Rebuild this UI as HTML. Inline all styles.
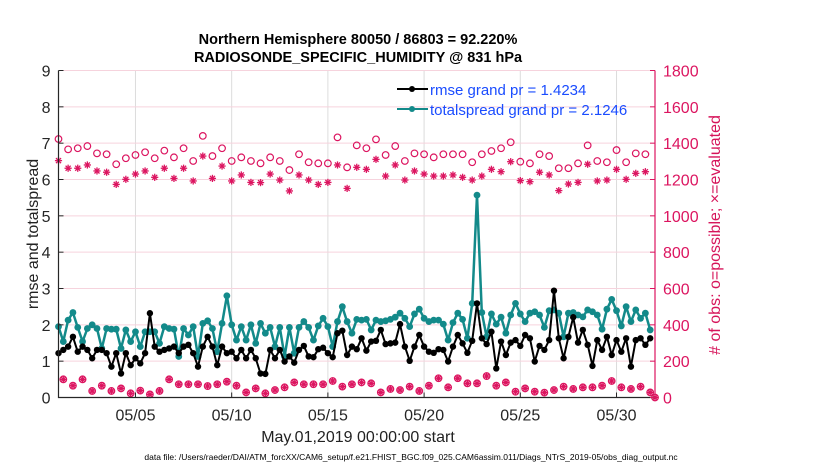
<!DOCTYPE html>
<html><head><meta charset="utf-8"><style>
html,body{margin:0;padding:0;background:#fff;}
svg{display:block;font-family:"Liberation Sans",sans-serif;}
</style></head><body>
<svg id="chart" width="830" height="470" viewBox="0 0 830 470" xmlns="http://www.w3.org/2000/svg">
<rect width="830" height="470" fill="#fff"/>
<text x="358" y="44" text-anchor="middle" font-size="14.5" font-weight="bold" fill="#000">Northern Hemisphere 80050 / 86803 = 92.220%</text>
<text x="358" y="62" text-anchor="middle" font-size="14.5" font-weight="bold" fill="#000">RADIOSONDE_SPECIFIC_HUMIDITY @ 831 hPa</text>
<g id="grid"></g>
<g id="marks"></g>
<g id="axes"></g>
<text transform="translate(38,234) rotate(-90)" text-anchor="middle" font-size="16" fill="#222">rmse and totalspread</text>
<text transform="translate(720,235) rotate(-90)" text-anchor="middle" font-size="16" fill="#d6145a"># of obs: o=possible; ×=evaluated</text>
<text x="358" y="442" text-anchor="middle" font-size="16" fill="#222">May.01,2019 00:00:00 start</text>
<text x="411" y="460" text-anchor="middle" font-size="8.5" fill="#000">data file: /Users/raeder/DAI/ATM_forcXX/CAM6_setup/f.e21.FHIST_BGC.f09_025.CAM6assim.011/Diags_NTrS_2019-05/obs_diag_output.nc</text>
<g id="legend">
<line x1="397" y1="89" x2="428" y2="89" stroke="#000" stroke-width="2"/><circle cx="412" cy="89" r="3" fill="#000"/>
<text x="430" y="95" font-size="15" fill="#1a4cff">rmse grand pr = 1.4234</text>
<line x1="397" y1="109" x2="428" y2="109" stroke="#138a8a" stroke-width="2"/><circle cx="412" cy="109" r="3" fill="#138a8a"/>
<text x="430" y="115" font-size="15" fill="#1a4cff">totalspread grand pr = 2.1246</text>
</g>
</svg>
<script>
const rmse = [1.22,1.31,1.40,1.67,1.26,1.40,1.31,1.08,1.31,1.31,1.22,0.85,1.22,0.66,1.22,0.89,1.08,0.94,1.22,2.32,1.40,1.26,1.31,1.35,1.40,1.22,1.40,1.45,1.22,0.85,1.40,1.67,1.40,0.89,1.40,1.22,1.26,1.08,1.31,1.08,1.31,1.08,0.66,
0.65,1.31,1.08,1.31,0.99,1.13,0.96,1.31,1.42,1.13,1.11,1.33,1.37,1.22,1.11,1.77,1.84,1.17,1.40,1.33,1.63,1.29,1.54,1.56,1.86,1.47,1.49,1.51,2.02,1.40,1.01,1.40,1.72,1.40,1.26,1.23,1.33,1.31,0.99,1.40,1.72,1.49,
1.23,1.56,2.59,1.63,1.47,1.81,0.80,1.54,1.17,1.51,1.58,1.42,1.72,1.63,0.99,1.42,1.31,1.58,2.94,1.63,1.08,1.67,2.21,1.51,1.86,1.45,0.87,1.58,1.31,1.67,1.17,1.58,1.26,1.63,0.85,1.58,1.63,1.45,1.63];
const totalspread = [1.95,1.54,2.13,2.34,1.93,1.54,1.90,2.00,1.90,1.35,1.90,1.88,1.88,1.35,1.86,1.54,1.81,1.40,1.81,1.81,1.81,1.49,1.95,1.90,1.88,1.13,1.90,1.72,1.95,1.13,2.04,2.11,1.90,1.26,2.04,2.80,2.00,1.58,1.95,1.58,2.00,1.49,2.04,
1.77,1.93,1.40,1.93,1.13,1.93,1.22,1.93,2.09,1.93,1.58,1.97,2.18,1.95,1.40,2.09,2.50,2.09,1.77,2.15,2.13,2.15,1.86,2.13,2.09,2.11,2.15,2.21,2.32,2.18,1.95,2.30,2.43,2.18,2.09,2.13,2.13,2.02,1.58,2.06,2.32,2.15,
1.63,2.59,5.57,2.34,1.67,2.30,2.02,2.21,1.77,2.27,2.59,2.30,2.09,2.32,2.36,2.27,1.93,2.39,2.41,2.32,1.67,2.32,2.34,2.27,2.22,2.41,2.36,2.27,1.88,2.43,2.70,2.39,1.97,2.50,2.09,2.41,2.18,2.32,1.86];
const possibleSynoptic = [1423,1366,1372,1384,1344,1339,1284,1317,1335,1350,1317,1359,1322,1372,1302,1440,1329,1372,1302,1322,1302,1289,
1322,1302,1252,1339,1295,1289,1289,1432,1267,1388,1372,1421,1335,1384,1302,1344,1339,1322,1339,1339,1339,
1295,1339,1357,1372,1405,1298,1289,1339,1329,1262,1262,1289,1388,1302,1295,1362,1295,1344,1339];
const evaluatedSynoptic = [1304,1262,1262,1280,1247,1240,1173,1201,1230,1247,1212,1262,1206,1262,1192,1329,1206,1274,1192,1225,1184,1183,
1230,1197,1137,1225,1197,1173,1184,1280,1151,1267,1256,1311,1219,1280,1197,1247,1230,1219,1219,1225,1212,
1197,1219,1256,1243,1298,1194,1188,1240,1225,1139,1175,1184,1284,1192,1197,1256,1201,1234,1243];
const obsOffSynoptic = [100,65,100,36,65,36,50,23,38,17,36,100,73,73,73,63,73,87,65,28,50,
23,41,56,83,73,73,73,91,60,73,83,78,28,47,41,60,36,65,106,56,106,
78,78,118,65,83,32,50,32,27,41,60,47,56,56,65,91,56,47,60,28];
const xTickLabels = ["05/05","05/10","05/15","05/20","05/25","05/30"];
const xTickDays = [4,9,14,19,24,29];
const yTicks = [0,1,2,3,4,5,6,7,8,9];
const y2Ticks = [0,200,400,600,800,1000,1200,1400,1600,1800];

const NS="http://www.w3.org/2000/svg";
const X0=58.5, X1=655, Y0=397.5, Y1=70.5, DAYS=31;
const xDay = d => X0 + (X1-X0)*d/DAYS;
const xIdx = i => xDay(i*0.25);
const yL = v => Y0 - (Y0-Y1)*v/9;
const yR = v => Y0 - (Y0-Y1)*v/1800;
function mk(tag, attrs, parent){const e=document.createElementNS(NS,tag);for(const k in attrs)e.setAttribute(k,attrs[k]);parent.appendChild(e);return e;}
const grid=document.getElementById('grid'), marks=document.getElementById('marks'), axes=document.getElementById('axes');

const possible=[], evaluated=[];
for(let k=0;k<possibleSynoptic.length;k++){
  possible.push(possibleSynoptic[k]); evaluated.push(evaluatedSynoptic[k]);
  if(k<obsOffSynoptic.length){possible.push(obsOffSynoptic[k]); evaluated.push(obsOffSynoptic[k]);}
}
possible.push(0); evaluated.push(0);

xTickDays.forEach(d=>{
  const g=mk('line',{x1:xDay(d),x2:xDay(d),y1:Y1,y2:Y0,stroke:'#dcdcdc','stroke-width':1},grid);
  
  
});
y2Ticks.forEach(v=>{
  const g=mk('line',{x1:X0,x2:X1,y1:yR(v),y2:yR(v),stroke:'#f6d3dd','stroke-width':1},grid);
  
  
});

const crim='#dc1560';
possible.forEach((v,i)=>{
  const c=mk('circle',{cx:xIdx(i),cy:yR(v),r:3.3,fill:'none',stroke:crim,'stroke-width':1.2},marks);
  
  
});
evaluated.forEach((v,i)=>{
  const x=xIdx(i), y=yR(v), r=3.6;
  const g=mk('g',{stroke:crim,'stroke-width':1.3},marks);
  
  
  mk('line',{x1:x-r,x2:x+r,y1:y,y2:y},g);
  mk('line',{x1:x,x2:x,y1:y-r,y2:y+r},g);
  mk('line',{x1:x-r*0.7,x2:x+r*0.7,y1:y-r*0.7,y2:y+r*0.7},g);
  mk('line',{x1:x-r*0.7,x2:x+r*0.7,y1:y+r*0.7,y2:y-r*0.7},g);
});

function series(arr,color,width,r,name){
  const pts=arr.map((v,i)=>xIdx(i).toFixed(1)+','+yL(v).toFixed(1)).join(' ');
  const pl=mk('polyline',{points:pts,fill:'none',stroke:color,'stroke-width':width,'stroke-linejoin':'round'},marks);
  
  
  arr.forEach((v,i)=>{
    const c=mk('circle',{cx:xIdx(i),cy:yL(v),r:r,fill:color},marks);
    
    
  });
}
series(totalspread,'#138a8a',2.5,3.4,'totalspread');
series(rmse,'#000',2,3.2,'rmse');

const ax=mk('path',{d:`M${X0},${Y1} L${X0},${Y0} L${X1},${Y0}`,fill:'none',stroke:'#262626','stroke-width':1.2},axes);


const ar=mk('line',{x1:X1,x2:X1,y1:Y1,y2:Y0,stroke:crim,'stroke-width':1.2},axes);


yTicks.forEach(v=>{
  mk('line',{x1:X0,x2:X0+5,y1:yL(v),y2:yL(v),stroke:'#262626'},axes);
  const t=mk('text',{x:X0-8,y:yL(v)+6,'text-anchor':'end','font-size':16,fill:'#262626'},axes);
  t.textContent=v;
  
  
});
y2Ticks.forEach(v=>{
  mk('line',{x1:X1-5,x2:X1,y1:yR(v),y2:yR(v),stroke:crim},axes);
  const t=mk('text',{x:X1+8,y:yR(v)+6,'text-anchor':'start','font-size':16,fill:crim},axes);
  t.textContent=v;
  
  
});
xTickDays.forEach((d,k)=>{
  mk('line',{x1:xDay(d),x2:xDay(d),y1:Y0,y2:Y0-5,stroke:'#262626'},axes);
  const t=mk('text',{x:xDay(d),y:Y0+23,'text-anchor':'middle','font-size':16,fill:'#262626'},axes);
  t.textContent=xTickLabels[k];
  
  
});
</script>
</body></html>
